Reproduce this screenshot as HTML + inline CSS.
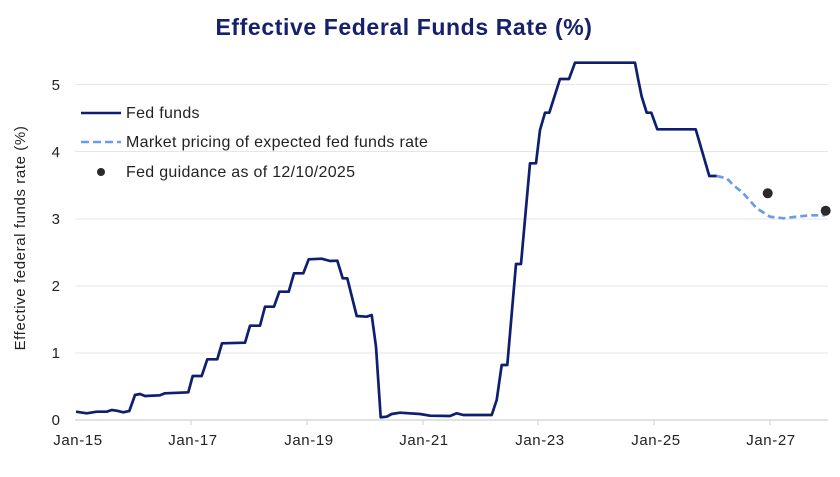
<!DOCTYPE html>
<html><head><meta charset="utf-8"><style>
body{margin:0;background:#fff;}
svg text{font-family:"Liberation Sans",sans-serif;fill:#222;}
</style></head><body>
<svg id="s" width="840" height="472" viewBox="0 0 840 472" xmlns="http://www.w3.org/2000/svg">
<rect width="840" height="472" fill="#fff"/>
<text x="404" y="35" text-anchor="middle" style="font-size:23px;font-weight:bold;fill:#16206b;letter-spacing:0.6px">Effective Federal Funds Rate (%)</text>
<g stroke="#e6e6e6" stroke-width="1">
<line x1="75" x2="828" y1="84.5" y2="84.5"/>
<line x1="75" x2="828" y1="151.5" y2="151.5"/>
<line x1="75" x2="828" y1="219" y2="219"/>
<line x1="75" x2="828" y1="286" y2="286"/>
<line x1="75" x2="828" y1="353" y2="353"/>
</g>
<line x1="75" x2="828" y1="420" y2="420" stroke="#d0d0d0" stroke-width="1.2"/>
<g stroke="#d0d0d0"><line x1="191" x2="191" y1="420" y2="425"/><line x1="307" x2="307" y1="420" y2="425"/><line x1="423" x2="423" y1="420" y2="425"/><line x1="538" x2="538" y1="420" y2="425"/><line x1="654" x2="654" y1="420" y2="425"/><line x1="770" x2="770" y1="420" y2="425"/></g>
<g style="font-size:15px" text-anchor="end">
<text x="60" y="90">5</text><text x="60" y="157">4</text><text x="60" y="224">3</text><text x="60" y="291">2</text><text x="60" y="358">1</text><text x="60" y="425">0</text>
</g>
<g style="font-size:15px;letter-spacing:0.6px" text-anchor="middle">
<text x="78" y="445">Jan-15</text><text x="193" y="445">Jan-17</text><text x="309" y="445">Jan-19</text><text x="424" y="445">Jan-21</text><text x="540" y="445">Jan-23</text><text x="656" y="445">Jan-25</text><text x="771" y="445">Jan-27</text>
</g>
<text transform="translate(25,238) rotate(-90)" text-anchor="middle" style="font-size:15px;letter-spacing:0.6px">Effective federal funds rate (%)</text>
<line x1="81" x2="121" y1="113" y2="113" stroke="#0d1f6e" stroke-width="2.5"/>
<text x="126" y="118" style="font-size:16px;letter-spacing:0.3px">Fed funds</text>
<line x1="81" x2="121" y1="142" y2="142" stroke="#6b9cec" stroke-width="2.5" stroke-dasharray="8,4"/>
<text x="126" y="147" style="font-size:16px;letter-spacing:0.3px">Market pricing of expected fed funds rate</text>
<circle cx="101" cy="172" r="4" fill="#2a2a2a"/>
<text x="126" y="177" style="font-size:16px;letter-spacing:0.3px">Fed guidance as of 12/10/2025</text>
<path id="p1" fill="none" stroke="#0d1f6e" stroke-width="2.7" stroke-linejoin="round"/>
<path id="p2" fill="none" stroke="#6b9cec" stroke-width="2.7" stroke-dasharray="7,4"/>
<circle cx="767.7" cy="193.3" r="5" fill="#2a2a2a"/>
<circle cx="825.7" cy="210.7" r="5" fill="#2a2a2a"/>
</svg>
<script>
var a=[[228,1055],[260,1060],[290,1055],[320,1055],[335,1050],[350,1052],[370,1057],[388,1053],[405,1005],[420,1002],[435,1008],[480,1006],[495,1000],[540,998],[565,997],[578,948],[605,948],[622,898],[652,898],[666,850],[735,848],[750,797],[780,797],[795,740],[822,740],[838,695],[866,695],[882,640],[910,640],[926,598],[965,596],[990,603],[1012,602],[1028,655],[1042,655],[1070,768],[1100,770],[1115,765],[1128,860],[1142,1072],[1160,1070],[1175,1062],[1200,1058],[1260,1062],[1290,1067],[1350,1068]];
var b=[[20,1060],[40,1065],[125,1065],[140,1020],[155,915],[172,915],[198,612],[213,612],[240,310],[258,310],[270,210],[285,158],[298,158],[330,57],[357,57],[375,8],[555,8],[565,60],[575,110],[590,158],[604,158],[622,208],[737,208],[778,348],[800,348]];
var c=[[800,348],[830,355],[850,375],[880,400],[920,445],[960,470],[1000,475],[1040,470],[1080,466],[1125,466]];
var d="";a.forEach(function(p,i){d+=(i?"L":"M")+(p[0]/3).toFixed(1)+","+(60+p[1]/3).toFixed(1);});
b.forEach(function(p){d+="L"+(450+p[0]/3).toFixed(1)+","+(60+p[1]/3).toFixed(1);});
document.getElementById("p1").setAttribute("d",d);
var e="";c.forEach(function(p,i){e+=(i?"L":"M")+(450+p[0]/3).toFixed(1)+","+(60+p[1]/3).toFixed(1);});
document.getElementById("p2").setAttribute("d",e);
</script>
</body></html>
